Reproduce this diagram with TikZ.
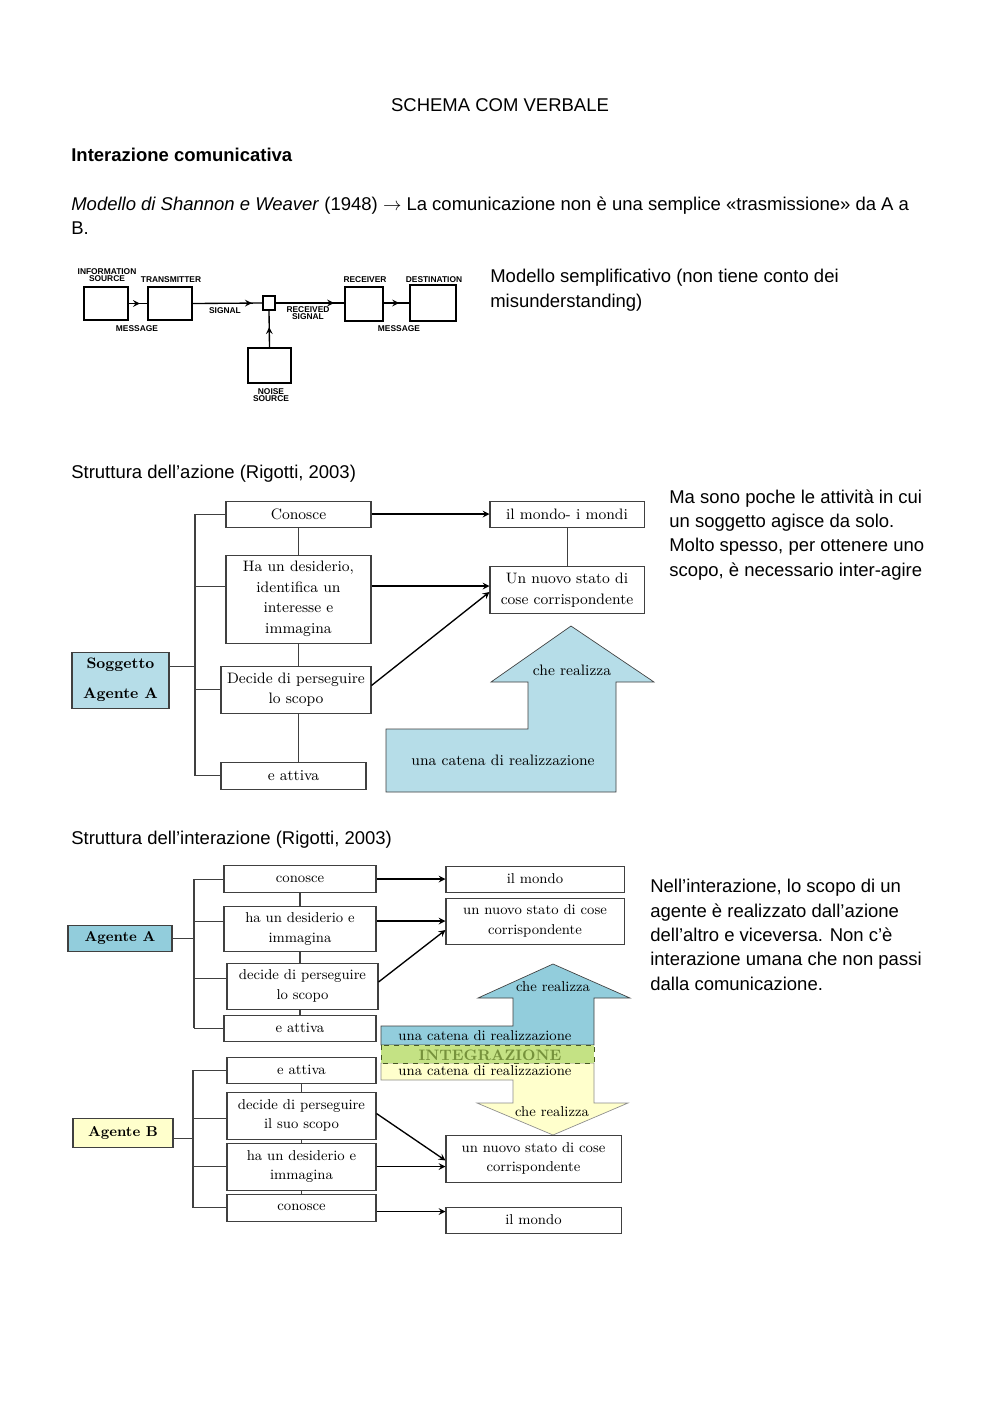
\documentclass[tikz,border=0pt]{standalone}
\usepackage{fontspec}
\setsansfont{Liberation Sans}
\usepackage{tikz}
\usetikzlibrary{arrows, decorations.markings}

\newcommand\pxu{0.595pt}
\definecolor{aquaLight}{HTML}{B6DDE8}
\definecolor{aquaMid}{HTML}{92CDDC}
\definecolor{paleYellow}{HTML}{FFFFCC}
\definecolor{limeGreen}{HTML}{C4E284}
\definecolor{oliveText}{HTML}{76923C}
\definecolor{boxLine}{HTML}{404040}

\tikzstyle{arrow} = [thick,->,>=stealth]
\tikzstyle{link} = [draw=boxLine, line width=0.6pt]
\tikzstyle{bodytext} = [font=\sffamily\fontsize{11}{14.45}\selectfont, inner sep=0pt, anchor=base west, align=left]
\tikzstyle{shbox} = [draw, thick, inner sep=0pt]
\tikzstyle{shlabel} = [font=\sffamily\bfseries\fontsize{5}{4.6}\selectfont, inner sep=0pt, align=center]
\tikzstyle{rbox} = [draw=boxLine, line width=0.6pt, fill=white, inner sep=1pt, align=center, font=\fontsize{9}{12.2}\selectfont]
\tikzstyle{ibox} = [rbox, font=\fontsize{8.5}{11.6}\selectfont]
\tikzstyle{bandtext} = [inner sep=0pt, font=\fontsize{8.5}{10}\selectfont]
\tikzset{sz/.style 2 args={minimum width=#1*\pxu, minimum height=#2*\pxu},
  shflow/.style={thick, postaction={decorate},
    decoration={markings, mark=at position #1 with {\arrow{stealth}}}}}

\begin{document}
\begin{tikzpicture}[x=0.595pt, y=-0.595pt]
  \fill[white] (0,0) rectangle (1000,1413);
  \useasboundingbox (0,0) rectangle (1000,1413);

  % page text (multi-line nodes sit on their last baseline)
  \node[bodytext, anchor=base] (title) at (500,111) {SCHEMA COM VERBALE};
  \node[bodytext, font=\sffamily\bfseries\fontsize{11}{14.45}\selectfont] (section) at (71,161) {Interazione comunicativa};
  \node[bodytext] (introLine) at (71,210) {\textit{Modello di Shannon e Weaver} (1948) $\rightarrow$ La comunicazione non è una semplice «trasmissione» da A a};
  \node[bodytext] (introEnd) at (71,234) {B.};
  \node[bodytext] (noteModel) at (490,307) {Modello semplificativo (non tiene conto dei\\misunderstanding)};

  % Shannon e Weaver
  \node[shbox, sz={44}{33}] (infoSrc) at (106,303.5) {};
  \node[shbox, sz={44}{33}] (transmitter) at (170,303.5) {};
  \node[shbox, sz={12}{14}] (channel) at (269,303) {};
  \node[shbox, sz={38}{34}] (receiver) at (364,304) {};
  \node[shbox, sz={46}{36}] (destination) at (433,303) {};
  \node[shbox, sz={43}{35}] (noiseSrc) at (269.5,365.5) {};
  \node[shlabel] (lblInfo) at (107,275) {INFORMATION\\SOURCE};
  \node[shlabel] (lblTrans) at (171,279.5) {TRANSMITTER};
  \node[shlabel] (lblSignal) at (225,310.5) {SIGNAL};
  \node[shlabel] (lblRecSignal) at (308,313) {RECEIVED\\SIGNAL};
  \node[shlabel] (lblMsgA) at (137,328.5) {MESSAGE};
  \node[shlabel] (lblRecv) at (365,280) {RECEIVER};
  \node[shlabel] (lblDest) at (434,280) {DESTINATION};
  \node[shlabel] (lblMsgB) at (399,328.5) {MESSAGE};
  \node[shlabel] (lblNoise) at (271,395) {NOISE\\SOURCE};
  \draw[shflow=0.6] (infoSrc.east) -- (transmitter.west);
  \draw[shflow=0.85] (transmitter.east) -- (channel.west);
  \draw[shflow=0.85] (channel.east) -- (receiver.west |- channel.east);
  \draw[shflow=0.6] (receiver.east |- channel.east) -- (destination.west |- channel.east);
  \draw[shflow=0.55] (noiseSrc.north) -- (channel.south);

  % struttura dell'azione
  \node[bodytext] (headAction) at (71,478) {Struttura dell’azione (Rigotti, 2003)};
  \node[bodytext] (noteAction) at (669,576) {Ma sono poche le attività in cui\\un soggetto agisce da solo.\\Molto spesso, per ottenere uno\\scopo, è necessario inter-agire};

  \draw[draw=boxLine, fill=aquaLight] (386,729) -- (528,729) -- (528,682) -- (491,682) -- (571,626)
    -- (654,682) -- (616,682) -- (616,792) -- (386,792) -- cycle;
  \node[bandtext, font=\fontsize{9}{11}\selectfont] (realizzaA) at (572,670) {che realizza};
  \node[bandtext, font=\fontsize{9}{11}\selectfont] (chainA) at (503,760) {una catena di realizzazione};

  \node[rbox, sz={145}{26}] (know) at (298.5,514) {Conosce};
  \node[rbox, sz={154}{26}] (worlds) at (567,514) {il mondo- i mondi};
  \node[rbox, sz={145}{88}] (wish) at (298.5,599) {Ha un desiderio,\\identifica un\\interesse e\\immagina};
  \node[rbox, sz={154}{47}] (newState) at (567,590) {Un nuovo stato di\\cose corrispondente};
  \node[rbox, fill=aquaLight, sz={97}{56}, font=\bfseries\fontsize{9}{18}\selectfont] (subject) at (120.5,680) {Soggetto\\Agente A};
  \node[rbox, sz={150}{47}] (decide) at (296,689.5) {Decide di perseguire\\lo scopo};
  \node[rbox, sz={145}{27}] (activate) at (293.5,775.5) {e attiva};

  \coordinate (spine) at (195,666);
  \coordinate (wishTap) at ([yshift=13*\pxu]wish.west);
  \draw[link] (subject.east |- spine) -- (spine);
  \draw[link] (spine |- know.west) -- (spine |- activate.west);
  \draw[link] (spine |- know.west) -- (know.west);
  \draw[link] (spine |- wishTap) -- (wishTap);
  \draw[link] (spine |- decide.west) -- (decide.west);
  \draw[link] (spine |- activate.west) -- (activate.west);
  \draw[link] (know.south) -- (wish.north);
  \draw[link] (wish.south) -- (wish.south |- decide.north);
  \draw[link] (wish.south |- decide.south) -- (wish.south |- activate.north);
  \draw[link] (worlds.south) -- (newState.north);
  \draw[arrow] (know.east) -- (worlds.west);
  \draw[arrow] (wishTap -| wish.east) -- (wishTap -| newState.west);
  \draw[arrow] ([yshift=4*\pxu]decide.east) -- ([yshift=-2*\pxu]newState.west);

  % struttura dell'interazione
  \node[bodytext] (headInter) at (71,844) {Struttura dell’interazione (Rigotti, 2003)};
  \node[bodytext] (noteInter) at (650,990) {Nell’interazione, lo scopo di un\\agente è realizzato dall’azione\\dell’altro e viceversa. Non c’è\\interazione umana che non passi\\dalla comunicazione.};

  \draw[draw=boxLine!60, fill=paleYellow] (381,1063) -- (594,1063) -- (594,1103) -- (628,1103) -- (553,1135)
    -- (477,1103) -- (513,1103) -- (513,1080) -- (381,1080) -- cycle;
  \draw[draw=boxLine, fill=aquaMid] (381,1045) -- (381,1026) -- (513,1026) -- (513,998) -- (478,998)
    -- (553,964) -- (630,998) -- (594,998) -- (594,1045) -- cycle;
  \draw[dashed, draw=oliveText!60!black, fill=limeGreen] (381,1045) rectangle (594,1063);
  \node[bandtext] (realizzaUp) at (553,987) {che realizza};
  \node[bandtext] (chainUp) at (485,1036) {una catena di realizzazione};
  \node[bandtext, text=oliveText, font=\bfseries\fontsize{9}{10}\selectfont] (integr) at (490,1055) {INTEGRAZIONE};
  \node[bandtext] (chainDown) at (485,1071) {una catena di realizzazione};
  \node[bandtext] (realizzaDown) at (552,1112) {che realizza};

  % agente A
  \node[ibox, sz={152}{27}] (knowA) at (300,879) {conosce};
  \node[ibox, sz={178}{26}] (worldA) at (535,879) {il mondo};
  \node[ibox, sz={152}{45}] (wishA) at (300,929) {ha un desiderio e\\immagina};
  \node[ibox, sz={178}{46}] (stateA) at (535,921) {un nuovo stato di cose\\corrispondente};
  \node[ibox, fill=aquaMid, sz={104}{26}, font=\bfseries\fontsize{8.5}{11}\selectfont] (agentA) at (120,938) {Agente A};
  \node[ibox, sz={151}{46}] (decideA) at (302.5,986) {decide di perseguire\\lo scopo};
  \node[ibox, sz={152}{26}] (activeA) at (300,1028) {e attiva};

  \coordinate (spineA) at (194,938);
  \draw[link] (agentA.east) -- (spineA);
  \draw[link] (spineA |- knowA.west) -- (spineA |- activeA.west);
  \draw[link] (spineA |- knowA.west) -- (knowA.west);
  \draw[link] (spineA |- stateA.west) -- (stateA.west -| wishA.west);
  \draw[link] ([yshift=8*\pxu]decideA.west -| spineA) -- ([yshift=8*\pxu]decideA.west);
  \draw[link] (spineA |- activeA.west) -- (activeA.west);
  \draw[link] (knowA.south) -- (wishA.north);
  \draw[link] (wishA.south) -- (wishA.south |- decideA.north);
  \draw[link] (wishA.south |- decideA.south) -- (activeA.north);
  \draw[arrow] (knowA.east) -- (worldA.west);
  \draw[arrow] (wishA.east |- stateA.west) -- (stateA.west);
  \draw[arrow] ([yshift=4*\pxu]decideA.east) -- ([yshift=-9*\pxu]stateA.west);

  % agente B
  \node[ibox, sz={149}{26}] (activeB) at (301.5,1070) {e attiva};
  \node[ibox, sz={149}{47}] (decideB) at (301.5,1115.5) {decide di perseguire\\il suo scopo};
  \node[ibox, sz={149}{47}] (wishB) at (301.5,1166.5) {ha un desiderio e\\immagina};
  \node[ibox, sz={149}{27}] (knowB) at (301.5,1207.5) {conosce};
  \node[ibox, fill=paleYellow, sz={100}{29}, font=\bfseries\fontsize{8.5}{11}\selectfont] (agentB) at (123,1132.5) {Agente B};
  \node[ibox, sz={175}{47}] (stateB) at (533.5,1158.5) {un nuovo stato di cose\\corrispondente};
  \node[ibox, sz={175}{26}] (worldB) at (533.5,1220) {il mondo};

  \coordinate (spineB) at (193,1138);
  \draw[link] (agentB.east |- spineB) -- (spineB);
  \draw[link] (spineB |- activeB.west) -- (spineB |- knowB.west);
  \draw[link] (spineB |- activeB.west) -- (activeB.west);
  \draw[link] ([yshift=-3*\pxu]decideB.west -| spineB) -- ([yshift=-3*\pxu]decideB.west);
  \draw[link] (spineB |- wishB.west) -- (wishB.west);
  \draw[link] (spineB |- knowB.west) -- (knowB.west);
  \draw[link] (activeB.south) -- (decideB.north);
  \draw[link] (decideB.south) -- (wishB.north);
  \draw[link] (wishB.south) -- (knowB.north);
  \draw[arrow] ([yshift=2*\pxu]decideB.east) -- ([yshift=-2*\pxu]stateB.west);
  \draw[arrow] (wishB.east) -- (wishB.east -| stateB.west);
  \draw[arrow] ([yshift=-4*\pxu]knowB.east) -- ([yshift=-4*\pxu]knowB.east -| worldB.west);
\end{tikzpicture}
\end{document}
